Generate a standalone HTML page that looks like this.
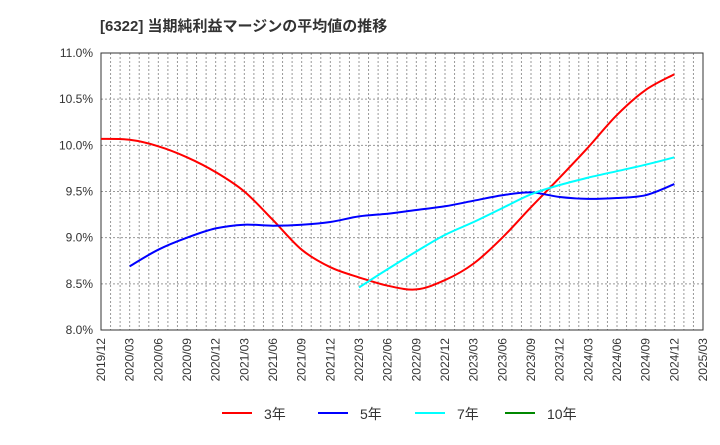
<!DOCTYPE html>
<html><head><meta charset="utf-8"><style>
body{margin:0;background:#fff;font-family:"Liberation Sans","Noto Sans CJK JP",sans-serif;}
</style></head><body>
<svg id="chart" width="720" height="440" xmlns="http://www.w3.org/2000/svg">
<text x="100" y="31" font-size="15" font-weight="bold" fill="#333" font-family="Liberation Sans,Noto Sans CJK JP,sans-serif">[6322]  当期純利益マージンの平均値の推移</text>
<g id="grid"></g><g id="axes"></g><g id="series"></g>
<g id="legend"></g>
</svg>
<script>
const xLabels=["2019/12","2020/03","2020/06","2020/09","2020/12","2021/03","2021/06","2021/09","2021/12","2022/03","2022/06","2022/09","2022/12","2023/03","2023/06","2023/09","2023/12","2024/03","2024/06","2024/09","2024/12","2025/03"];
const yTicks=[8.0,8.5,9.0,9.5,10.0,10.5,11.0];
const s3=[10.07,10.06,9.99,9.87,9.71,9.50,9.19,8.87,8.68,8.57,8.48,8.44,8.54,8.72,9.0,9.33,9.65,9.98,10.33,10.6,10.77];
const s5=[null,8.69,8.87,9.0,9.1,9.14,9.13,9.14,9.17,9.23,9.26,9.3,9.34,9.4,9.46,9.49,9.44,9.42,9.43,9.46,9.58];
const s7=[null,null,null,null,null,null,null,null,null,8.46,8.66,8.85,9.03,9.17,9.32,9.47,9.57,9.65,9.72,9.79,9.87];
const s10=[];
const L=101,R=703,T=53,B=330,NS="http://www.w3.org/2000/svg";
const xs=i=>L+(R-L)*i/(xLabels.length-1);
const ys=v=>B-(v-8)/3*(B-T);
function mk(tag,attrs,parent){const e=document.createElementNS(NS,tag);for(const k in attrs)e.setAttribute(k,attrs[k]);parent.appendChild(e);return e;}
const g=document.getElementById('grid'),a=document.getElementById('axes'),sg=document.getElementById('series'),lg=document.getElementById('legend');
for(let m=1;m<(xLabels.length-1)*3;m++){const x=L+(R-L)*m/((xLabels.length-1)*3);
const l=mk('line',{x1:x,x2:x,y1:T,y2:B,stroke:'#999','stroke-dasharray':'2,2','stroke-width':1},g);

}
yTicks.forEach(v=>{const y=ys(v);
const l=mk('line',{x1:L,x2:R,y1:y,y2:y,stroke:'#999','stroke-dasharray':'2,2','stroke-width':1},g);


const t=mk('text',{x:L-8,y:y+4,'text-anchor':'end','font-size':12,fill:'#333'},a);t.textContent=v.toFixed(1)+'%';

});
const fr=mk('rect',{x:L,y:T,width:R-L,height:B-T,fill:'none',stroke:'#333','stroke-width':1},a);


xLabels.forEach((lab,i)=>{const x=xs(i);
const t=mk('text',{x:0,y:0,'text-anchor':'end','font-size':12,fill:'#333',transform:`translate(${x+4},338) rotate(-90)`},a);t.textContent=lab;

});
function line(data,color,name){const pts=[];data.forEach((v,i)=>{if(v!=null)pts.push([xs(i),ys(v)]);});
if(pts.length<2)return;let d='M'+pts[0][0].toFixed(1)+','+pts[0][1].toFixed(1);
for(let i=0;i<pts.length-1;i++){const p0=pts[Math.max(0,i-1)],p1=pts[i],p2=pts[i+1],p3=pts[Math.min(pts.length-1,i+2)];
const c1=[p1[0]+(p2[0]-p0[0])/6,p1[1]+(p2[1]-p0[1])/6],c2=[p2[0]-(p3[0]-p1[0])/6,p2[1]-(p3[1]-p1[1])/6];
d+='C'+c1[0].toFixed(1)+','+c1[1].toFixed(1)+' '+c2[0].toFixed(1)+','+c2[1].toFixed(1)+' '+p2[0].toFixed(1)+','+p2[1].toFixed(1);}
const p=mk('path',{d:d,fill:'none',stroke:color,'stroke-width':2,'stroke-linejoin':'round'},sg);

}
line(s3,'#f00','series-3yr');line(s5,'#00f','series-5yr');line(s7,'#0ff','series-7yr');line(s10,'#080','series-10yr');
[["3年",'#f00',222],["5年",'#00f',318],["7年",'#0ff',415],["10年",'#080',505]].forEach(([n,c,x])=>{
const l=mk('line',{x1:x,x2:x+30,y1:413,y2:413,stroke:c,'stroke-width':2},lg);


const t=mk('text',{x:x+42,y:419,'font-size':14,fill:'#333'},lg);t.textContent=n;

});
</script>
</body></html>
